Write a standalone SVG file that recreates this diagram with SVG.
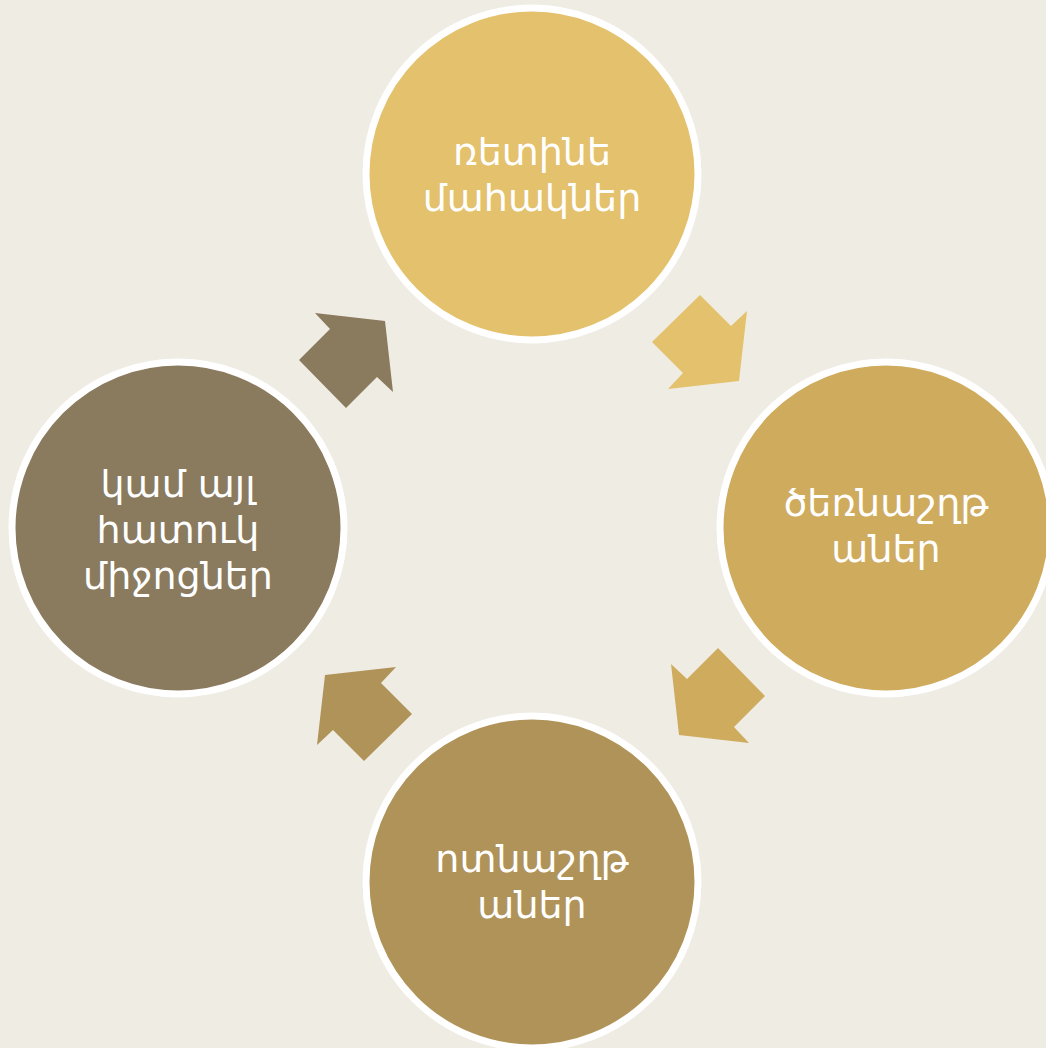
<svg xmlns="http://www.w3.org/2000/svg" width="1046" height="1048" viewBox="0 0 1046 1048">
<style>
.ring{stroke:#FFFFFF;stroke-width:7}
.lbl{font-family:"DejaVu Sans","Noto Sans",sans-serif;font-size:38px;fill:#FFFFFF;text-anchor:middle}
</style>
<defs>
<polygon id="arw" points="700,295 731,326 747,311 739,381 668,389 683,373 652,342"/>
</defs>
<rect width="1046" height="1048" fill="#EFECE4"/>
<g id="connectors">
<use href="#arw" fill="#E4C16C"/>
<use href="#arw" fill="#CFAB5E" transform="rotate(90 532 528)"/>
<use href="#arw" fill="#B09358" transform="rotate(180 532 528)"/>
<use href="#arw" fill="#8A7A5E" transform="rotate(270 532 528)"/>
</g>
<g id="node-top">
<circle class="ring" cx="532" cy="174" r="166" fill="#E4C16C"/>
<text class="lbl" x="532" y="165">ռետինե</text>
<text class="lbl" x="532" y="211">մահակներ</text>
</g>
<g id="node-right">
<circle class="ring" cx="886" cy="528" r="166" fill="#CFAB5E"/>
<text class="lbl" x="886" y="516">ծեռնաշղթ</text>
<text class="lbl" x="886" y="562">աներ</text>
</g>
<g id="node-bottom">
<circle class="ring" cx="532" cy="882" r="166" fill="#B09358"/>
<text class="lbl" x="532" y="872">ոտնաշղթ</text>
<text class="lbl" x="532" y="918">աներ</text>
</g>
<g id="node-left">
<circle class="ring" cx="178" cy="528" r="166" fill="#8A7A5E"/>
<text class="lbl" x="178" y="497">կամ այլ</text>
<text class="lbl" x="178" y="543">հատուկ</text>
<text class="lbl" x="178" y="589">միջոցներ</text>
</g>
</svg>
